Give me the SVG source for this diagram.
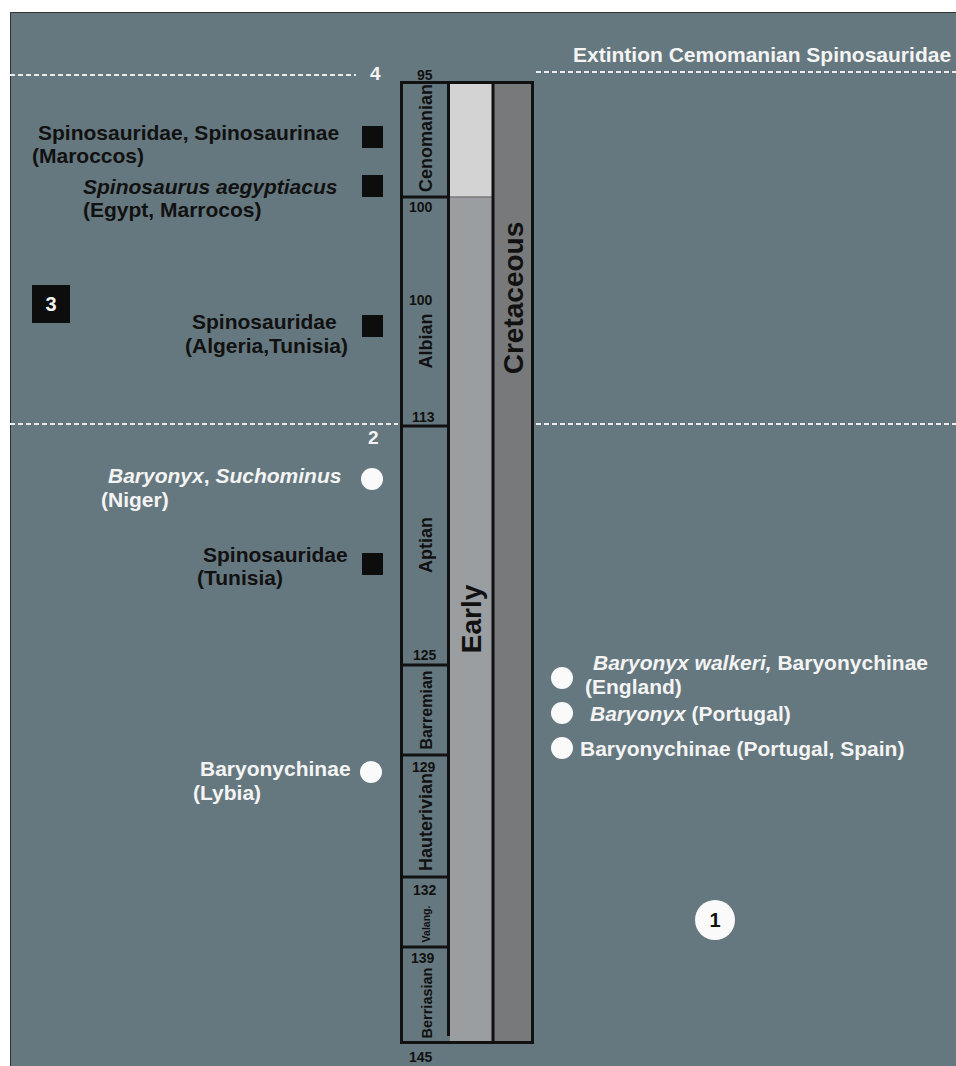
<svg xmlns="http://www.w3.org/2000/svg" width="956" height="1066" viewBox="0 0 956 1066">
<style>
text{font-family:"Liberation Sans",Arial,sans-serif;font-weight:bold}
.lbl{font-size:21px}
.blk{fill:#111}
.wht{fill:#f4f4f4}
.it{font-style:italic}
.num{font-size:14px;fill:#111}
.stg{font-size:18px;fill:#111}
.dash{stroke:#ececec;stroke-width:2;stroke-dasharray:5 3;fill:none}
.sq{fill:#0d0d0d}
.dot{fill:#fafafa}
.bnd{stroke:#111;stroke-width:3}
</style>
<rect x="0" y="0" width="956" height="1066" fill="#ffffff"/>
<rect x="10" y="12" width="946" height="1054" fill="#66787f"/>
<path d="M10.5 1066 V12.5 H956" fill="none" stroke="#333" stroke-width="1"/>

<g id="lines">
<line class="dash" x1="10" y1="75" x2="356" y2="75"/>
<line class="dash" x1="536" y1="72" x2="956" y2="72"/>
<line class="dash" x1="10" y1="424" x2="398" y2="424"/>
<line class="dash" x1="536" y1="424" x2="956" y2="424"/>
</g>

<g id="timescale">
<rect x="450" y="84" width="42" height="113" fill="#d3d3d3"/>
<rect x="450" y="197" width="42" height="845" fill="#9a9ea1"/>
<rect x="494" y="84" width="38" height="958" fill="#77797b"/>
<line x1="450" y1="197" x2="492" y2="197" stroke="#7a7a7a" stroke-width="1.5"/>
<rect x="401.5" y="82.5" width="131" height="960" fill="none" stroke="#111" stroke-width="3"/>
<line class="bnd" x1="448.5" y1="82" x2="448.5" y2="1036"/>
<line class="bnd" x1="493" y1="82" x2="493" y2="1042"/>
<line class="bnd" x1="401" y1="197" x2="449" y2="197"/>
<line class="bnd" x1="401" y1="426" x2="449" y2="426"/>
<line class="bnd" x1="401" y1="665" x2="449" y2="665"/>
<line class="bnd" x1="401" y1="755" x2="449" y2="755"/>
<line class="bnd" x1="401" y1="877" x2="449" y2="877"/>
<line class="bnd" x1="401" y1="947" x2="449" y2="947"/>
<text class="num" x="417" y="80">95</text>
<text class="num" x="409" y="212">100</text>
<text class="num" x="409" y="305">100</text>
<text class="num" x="412" y="422">113</text>
<text class="num" x="413" y="660">125</text>
<text class="num" x="412" y="772">129</text>
<text class="num" x="413" y="895">132</text>
<text class="num" x="411" y="963">139</text>
<text class="num" x="409" y="1062">145</text>
<text class="stg" text-anchor="middle" transform="translate(432 138) rotate(-90)">Cenomanian</text>
<text class="stg" text-anchor="middle" transform="translate(432 341) rotate(-90)">Albian</text>
<text class="stg" text-anchor="middle" transform="translate(432 545) rotate(-90)">Aptian</text>
<text class="stg" text-anchor="middle" font-size="16" transform="translate(432 710) rotate(-90)" style="font-size:16px">Barremian</text>
<text class="stg" text-anchor="middle" transform="translate(432 822) rotate(-90)">Hauterivian</text>
<text class="stg" text-anchor="middle" transform="translate(430 924) rotate(-90)" style="font-size:10.5px">Valang.</text>
<text class="stg" text-anchor="middle" transform="translate(432 1003) rotate(-90)" style="font-size:14.5px">Berriasian</text>
<text text-anchor="middle" transform="translate(481 619) rotate(-90)" style="font-size:28px;fill:#111">Early</text>
<text text-anchor="middle" transform="translate(523 298) rotate(-90)" style="font-size:28px;fill:#111">Cretaceous</text>
</g>

<g id="marker-4"><text class="wht" x="370" y="80" style="font-size:19px">4</text></g>
<g id="marker-2"><text class="wht" x="368" y="444" style="font-size:19px">2</text></g>
<g id="extinction"><text class="lbl wht" x="573" y="62">Extintion Cemomanian Spinosauridae</text></g>

<g id="marker-3">
<rect class="sq" x="32" y="285" width="38" height="38"/>
<text class="wht" x="51" y="311" text-anchor="middle" style="font-size:20px">3</text>
</g>

<g id="marker-1">
<circle class="dot" cx="715" cy="920" r="20"/>
<text class="blk" x="715" y="927" text-anchor="middle" style="font-size:20px">1</text>
</g>

<g id="rec-maroccos">
<text class="lbl blk" x="38" y="140">Spinosauridae, Spinosaurinae</text>
<text class="lbl blk" x="32" y="163">(Maroccos)</text>
<rect class="sq" x="362" y="126" width="21" height="22"/>
</g>

<g id="rec-egypt">
<text class="lbl blk it" x="83" y="194">Spinosaurus aegyptiacus</text>
<text class="lbl blk" x="83" y="217">(Egypt, Marrocos)</text>
<rect class="sq" x="362" y="175" width="21" height="22"/>
</g>

<g id="rec-algeria">
<text class="lbl blk" x="192" y="329">Spinosauridae</text>
<text class="lbl blk" x="185" y="353">(Algeria,Tunisia)</text>
<rect class="sq" x="362" y="315" width="21" height="22"/>
</g>

<g id="rec-niger">
<text class="lbl wht" x="108" y="483"><tspan class="it">Baryonyx</tspan>, <tspan class="it">Suchominus</tspan></text>
<text class="lbl wht" x="101" y="507">(Niger)</text>
<circle class="dot" cx="372" cy="479" r="11"/>
</g>

<g id="rec-tunisia">
<text class="lbl blk" x="203" y="562">Spinosauridae</text>
<text class="lbl blk" x="197" y="585">(Tunisia)</text>
<rect class="sq" x="362" y="553" width="21" height="22"/>
</g>

<g id="rec-lybia">
<text class="lbl wht" x="200" y="776">Baryonychinae</text>
<text class="lbl wht" x="193" y="800">(Lybia)</text>
<circle class="dot" cx="371" cy="772" r="11"/>
</g>

<g id="rec-england">
<circle class="dot" cx="562" cy="678" r="11"/>
<text class="lbl wht" x="593" y="670"><tspan class="it">Baryonyx walkeri,</tspan> Baryonychinae</text>
<text class="lbl wht" x="585" y="694">(England)</text>
</g>

<g id="rec-portugal">
<circle class="dot" cx="562" cy="713" r="11"/>
<text class="lbl wht" x="590" y="721"><tspan class="it">Baryonyx</tspan> (Portugal)</text>
</g>

<g id="rec-portugal-spain">
<circle class="dot" cx="562" cy="748" r="11"/>
<text class="lbl wht" x="580" y="756">Baryonychinae (Portugal, Spain)</text>
</g>
</svg>
